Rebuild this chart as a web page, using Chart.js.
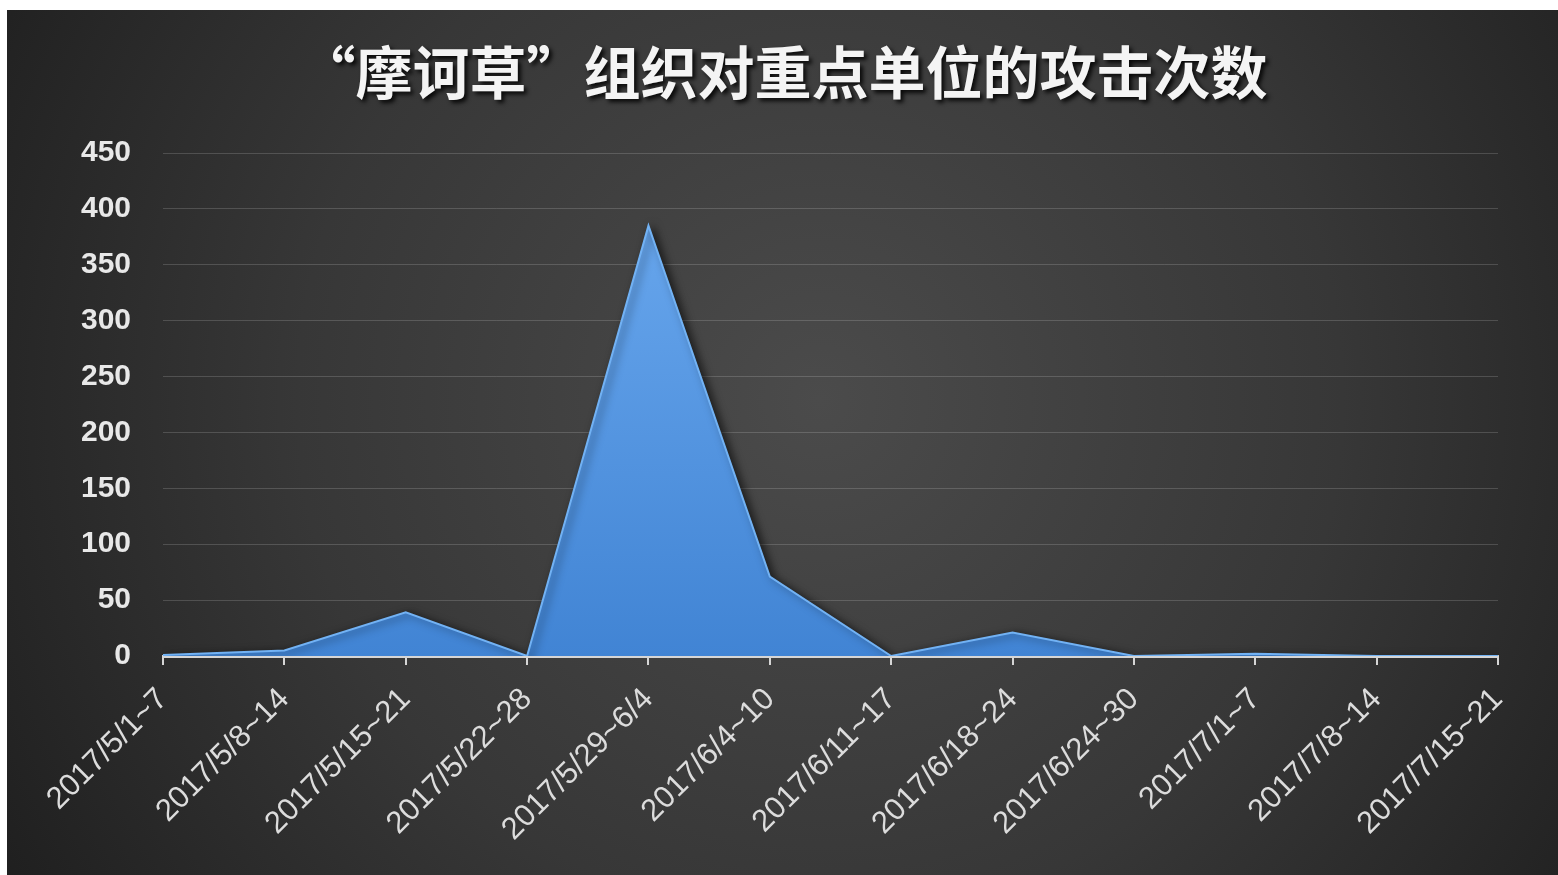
<!DOCTYPE html>
<html>
<head>
<meta charset="utf-8">
<title>摩诃草 攻击次数</title>
<script src="https://cdn.jsdelivr.net/npm/chart.js@4/dist/chart.umd.min.js"></script>
<style>
  html, body { margin: 0; padding: 0; background: #fff; }
  #wrap { width: 1558px; height: 875px; position: relative; }
</style>
</head>
<body>
<div id="wrap"><canvas id="chart"></canvas></div>
<script>
// data
const chartTitle = '“摩诃草”组织对重点单位的攻击次数';
const weeks = [
    '2017/5/1~7', '2017/5/8~14', '2017/5/15~21', '2017/5/22~28',
    '2017/5/29~6/4', '2017/6/4~10', '2017/6/11~17', '2017/6/18~24',
    '2017/6/24~30', '2017/7/1~7', '2017/7/8~14', '2017/7/15~21'
];
const attacks = [1, 5, 39, 0, 385, 71, 0, 21, 0, 2, 0, 0];
const yMax = 450;
const yStep = 50;

// dark slide background + title
const backdrop = {
    id: 'backdrop',
    beforeDraw(chart) {
        const ctx = chart.ctx;
        const w = chart.width, h = chart.height;
        ctx.save();
        ctx.fillStyle = '#ffffff';
        ctx.fillRect(0, 0, w, h);
        const g = ctx.createRadialGradient(820, 400, 0, 820, 400, 950);
        g.addColorStop(0, '#4b4b4b');
        g.addColorStop(0.55, '#373737');
        g.addColorStop(1, '#1f1f1f');
        ctx.fillStyle = g;
        ctx.fillRect(7, 10, w - 7, h - 10);
        ctx.restore();
    },
    afterDraw(chart) {
        const ctx = chart.ctx;
        ctx.save();
        ctx.font = 'bold 57px "Noto Sans CJK SC", sans-serif';
        ctx.textAlign = 'center';
        ctx.textBaseline = 'middle';
        ctx.shadowColor = 'rgba(0,0,0,0.85)';
        ctx.shadowBlur = 4;
        ctx.shadowOffsetX = 3;
        ctx.shadowOffsetY = 3;
        ctx.fillStyle = '#f4f4f4';
        ctx.fillText(chartTitle, 783, 72);
        ctx.restore();
    }
};

// soft shadow under the area, like the office chart
const areaShadow = {
    id: 'areaShadow',
    beforeDatasetsDraw(chart) {
        const ctx = chart.ctx;
        ctx.save();
        ctx.shadowColor = 'rgba(0,0,0,0.6)';
        ctx.shadowBlur = 8;
        ctx.shadowOffsetX = 4;
        ctx.shadowOffsetY = 2;
    },
    afterDatasetsDraw(chart) {
        chart.ctx.restore();
    }
};

function areaFill(context) {
    const area = context.chart.chartArea;
    if (!area) return '#4f8fdc';
    const g = context.chart.ctx.createLinearGradient(0, area.top, 0, area.bottom);
    g.addColorStop(0, '#6dabf0');
    g.addColorStop(1, '#4184d4');
    return g;
}

const canvas = document.getElementById('chart');
new Chart(canvas, {
    type: 'line',
    data: {
        labels: weeks,
        datasets: [{
            label: '攻击次数',
            data: attacks,
            fill: 'origin',
            backgroundColor: areaFill,
            borderColor: '#72b2f4',
            borderWidth: 2,
            pointRadius: 0,
            tension: 0
        }]
    },
    options: {
        responsive: true,
        maintainAspectRatio: false,
        animation: false,
        layout: { padding: { top: 153, right: 60, bottom: 0, left: 0 } },
        plugins: {
            legend: { display: false },
            title: { display: false },
            tooltip: { enabled: false }
        },
        scales: {
            x: {
                offset: false,
                afterFit(scale) { scale.height = 219; },
                border: { display: true, color: '#d6d6d6', width: 3 },
                grid: {
                    drawOnChartArea: false,
                    drawTicks: true,
                    tickLength: 9,
                    color: '#d6d6d6',
                    lineWidth: 2
                },
                ticks: {
                    autoSkip: false,
                    maxRotation: 45,
                    minRotation: 45,
                    padding: 16,
                    color: '#dcdcdc',
                    font: { family: '"Liberation Sans", sans-serif', size: 31 }
                }
            },
            y: {
                min: 0,
                max: yMax,
                afterFit(scale) { scale.width = 163; },
                border: { display: false },
                grid: {
                    drawTicks: false,
                    color: 'rgba(255,255,255,0.16)',
                    lineWidth: 1
                },
                ticks: {
                    stepSize: yStep,
                    padding: 32,
                    color: '#e8e8e8',
                    font: { family: '"Liberation Sans", sans-serif', size: 30, weight: 'bold' }
                }
            }
        }
    },
    plugins: [backdrop, areaShadow]
});
</script>
</body>
</html>
